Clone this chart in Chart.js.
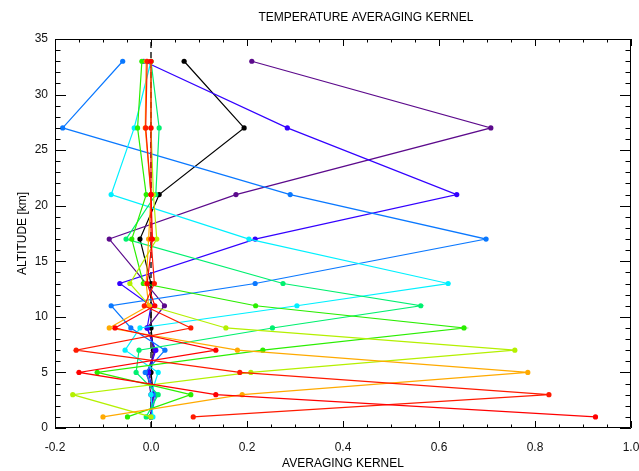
<!DOCTYPE html>
<html>
<head>
<meta charset="utf-8">
<script src="https://cdn.jsdelivr.net/npm/chart.js@4.4.1/dist/chart.umd.min.js"></script>
<style>
  html, body { margin: 0; padding: 0; background: #fff; }
  #wrap { width: 639px; height: 471px; }
</style>
</head>
<body>
<div id="wrap"><canvas id="kernel-chart" width="639" height="471"></canvas></div>
<script>
// retrieval levels [km]
const altitudes = [1, 3, 5, 7, 9, 11, 13, 17, 21, 27, 33];

// one row of the averaging kernel per level, values at each altitude above
const kernel33 = [0.000, 0.005, 0.000, 0.005, 0.000, 0.000, 0.000, -0.023, 0.017, 0.194, 0.069];
const kernel27 = [0.000, 0.000, -0.008, 0.008, -0.008, 0.028, -0.010, -0.087, 0.177, 0.708, 0.210];
const kernel21 = [0.000, 0.005, -0.005, 0.010, -0.008, 0.000, -0.065, 0.217, 0.637, 0.284, -0.015];
const kernel17 = [0.000, 0.010, -0.012, 0.029, -0.042, -0.083, 0.217, 0.698, 0.290, -0.184, -0.059];
const kernel13 = [0.004, 0.000, 0.015, -0.054, -0.023, 0.304, 0.619, 0.204, -0.083, -0.035, 0.000];
const kernel11 = [-0.010, 0.015, -0.031, -0.025, 0.253, 0.562, 0.275, -0.052, 0.010, 0.017, 0.000];
const kernel9  = [-0.049, 0.083, -0.112, 0.233, 0.652, 0.218, -0.016, -0.040, -0.010, -0.028, -0.019];
const kernel7  = [0.000, -0.163, 0.208, 0.758, 0.156, -0.003, -0.044, 0.012, 0.005, 0.000, 0.000];
const kernel5  = [-0.100, 0.190, 0.785, 0.180, -0.087, -0.005, -0.010, -0.005, 0.000, -0.012, -0.010];
const kernel3  = [0.088, 0.829, 0.185, -0.156, 0.083, -0.014, 0.007, 0.000, 0.000, -0.011, -0.008];
const kernel1  = [0.926, 0.135, -0.150, 0.135, -0.075, 0.008, -0.008, 0.003, 0.000, 0.000, 0.000];

const kernels = [kernel33, kernel27, kernel21, kernel17, kernel13, kernel11, kernel9, kernel7, kernel5, kernel3, kernel1];
const kernelLabels = ['33 km', '27 km', '21 km', '17 km', '13 km', '11 km', '9 km', '7 km', '5 km', '3 km', '1 km'];
const kernelColors = ['#000000', '#5c0a8c', '#3300ff', '#0a78ff', '#00f0ff', '#00f070', '#2aee00', '#b4f000', '#ffaa00', '#ff1a00', '#ff0000'];

const xTickValues = [-0.2, 0.0, 0.2, 0.4, 0.6, 0.8, 1.0];
const zeroLine = [0, 0];
const zeroLineAlt = [0, 35];

const FONT = "'Liberation Sans', Arial, Helvetica, sans-serif";

// IDL style box with inward ticks on all four sides, plus the title
const frameTicks = {
    id: 'frameTicks',
    afterDraw(chart) {
        const {ctx, chartArea: a, scales: {x, y}} = chart;
        ctx.save();
        ctx.strokeStyle = '#000';
        ctx.lineWidth = 1;
        ctx.beginPath();
        ctx.rect(a.left + 0.5, a.top + 0.5, a.right - a.left - 1, a.bottom - a.top - 1);
        for (let i = 0; i <= 24; i++) {
            const px = Math.round(x.getPixelForValue(-0.2 + i * 0.05)) + 0.5;
            const len = i % 4 === 0 ? 7 : 3.5;
            ctx.moveTo(px, a.bottom); ctx.lineTo(px, a.bottom - len);
            ctx.moveTo(px, a.top); ctx.lineTo(px, a.top + len);
        }
        for (let k = 0; k <= 35; k++) {
            const py = Math.round(y.getPixelForValue(k)) + 0.5;
            const len = k % 5 === 0 ? 11 : 5.5;
            ctx.moveTo(a.left, py); ctx.lineTo(a.left + len, py);
            ctx.moveTo(a.right, py); ctx.lineTo(a.right - len, py);
        }
        ctx.stroke();
        ctx.fillStyle = '#000';
        ctx.font = '12px ' + FONT;
        ctx.textAlign = 'center';
        ctx.textBaseline = 'middle';
        ctx.fillText('TEMPERATURE AVERAGING KERNEL', 366, 18);
        ctx.restore();
    }
};

const datasets = kernels.map((k, i) => ({
    label: kernelLabels[i],
    data: k.map((v, j) => ({x: v, y: altitudes[j]})),
    showLine: true,
    borderColor: kernelColors[i],
    backgroundColor: kernelColors[i],
    borderWidth: 1.2,
    pointRadius: 2.6,
    pointBorderWidth: 0,
    order: kernels.length - i
}));

datasets.push({
    label: 'zero',
    data: zeroLine.map((v, j) => ({x: v, y: zeroLineAlt[j]})),
    showLine: true,
    borderColor: '#444',
    borderWidth: 1.8,
    borderDash: [6, 4],
    pointRadius: 0,
    order: 99
});

new Chart(document.getElementById('kernel-chart'), {
    type: 'scatter',
    data: { datasets: datasets },
    options: {
        responsive: false,
        animation: false,
        devicePixelRatio: 1,
        layout: { padding: { top: 39, right: 8, left: 0, bottom: 0 } },
        scales: {
            x: {
                type: 'linear',
                min: -0.2,
                max: 1.0,
                afterBuildTicks: s => { s.ticks = xTickValues.map(v => ({value: v})); },
                afterFit: s => { s.height = 43; s.paddingLeft = 0; s.paddingRight = 0; },
                grid: { display: false, drawTicks: false },
                border: { display: false },
                ticks: {
                    color: '#111',
                    padding: 12,
                    maxRotation: 0,
                    font: { family: FONT, size: 12 },
                    callback: v => v.toFixed(1)
                },
                title: {
                    display: true,
                    text: 'AVERAGING KERNEL',
                    color: '#000',
                    padding: { top: 0, bottom: 0 },
                    font: { family: FONT, size: 12 }
                }
            },
            y: {
                type: 'linear',
                min: 0,
                max: 35,
                afterFit: s => { s.width = 55; s.paddingTop = 0; s.paddingBottom = 0; },
                grid: { display: false, drawTicks: false },
                border: { display: false },
                ticks: {
                    stepSize: 5,
                    color: '#111',
                    padding: 7,
                    font: { family: FONT, size: 12 }
                },
                title: {
                    display: true,
                    text: 'ALTITUDE [km]',
                    color: '#000',
                    padding: { top: 15, bottom: 0 },
                    font: { family: FONT, size: 12 }
                }
            }
        },
        plugins: {
            legend: { display: false },
            tooltip: { enabled: false },
            title: { display: false }
        }
    },
    plugins: [frameTicks]
});
</script>
</body>
</html>
